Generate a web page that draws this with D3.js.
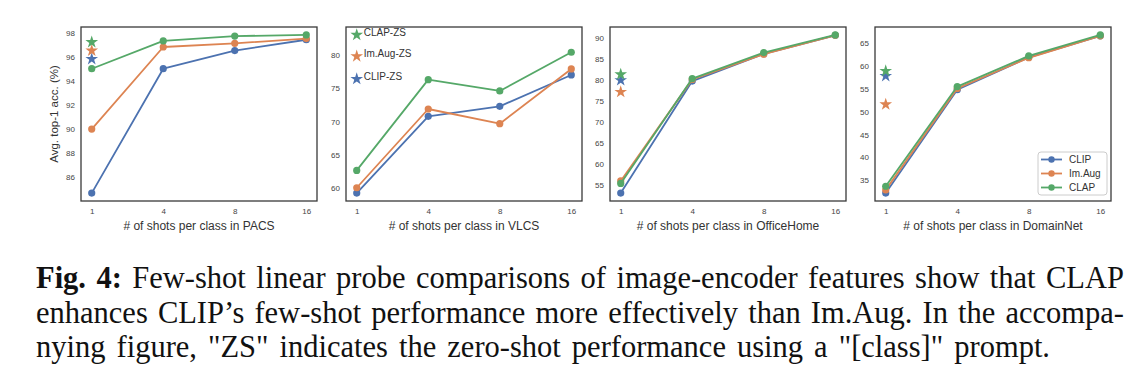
<!DOCTYPE html>
<html><head><meta charset="utf-8">
<script src="https://cdn.jsdelivr.net/npm/d3@7"></script>
<style>body{margin:0;background:#fff} svg{display:block}</style>
</head><body>
<svg id="c" width="1138" height="382"></svg>
<script>
// ---------- data ----------
const shots = ["1", "4", "8", "16"];
const datasets = ["PACS", "VLCS", "OfficeHome", "DomainNet"];
const seriesNames = ["CLIP", "Im.Aug", "CLAP"];
const zsNames = ["CLIP-ZS", "Im.Aug-ZS", "CLAP-ZS"];
const clipVals  = [[84.7, 95.0, 96.5, 97.4], [59.3, 70.8, 72.3, 77.0], [53.0, 79.7, 86.2, 90.6], [32.2, 54.8, 61.9, 66.6]];
const imaugVals = [[90.0, 96.8, 97.1, 97.5], [60.1, 71.9, 69.7, 77.9], [55.9, 80.1, 86.1, 90.6], [32.9, 55.1, 61.8, 66.6]];
const clapVals  = [[95.0, 97.3, 97.7, 97.8], [62.7, 76.3, 74.6, 80.4], [55.3, 80.3, 86.5, 90.7], [33.7, 55.5, 62.2, 66.8]];
const clipZS  = [95.8, 76.4, 79.9, 57.8];
const imaugZS = [96.5, 79.8, 77.1, 51.6];
const clapZS  = [97.2, 83.0, 81.3, 58.9];
const yTicks = [[86, 88, 90, 92, 94, 96, 98], [60, 65, 70, 75, 80], [55, 60, 65, 70, 75, 80, 85, 90], [35, 40, 45, 50, 55, 60, 65]];
const yLabel = "Avg. top-1 acc. (%)";
const captionBold = "Fig. 4:";
const captionLines = [
  "Few-shot linear probe comparisons of image-encoder features show that CLAP",
  "enhances CLIP’s few-shot performance more effectively than Im.Aug. In the accompa-",
  "nying figure, \"ZS\" indicates the zero-shot performance using a \"[class]\" prompt."
];

// ---------- layout ----------
const svg = d3.select("#c");
const W = 236, H = 174, TOP = 27;
const lefts = [81, 346, 610, 875];
const colors = ["#4C72B0", "#DD8452", "#55A868"];
const sans = '"Liberation Sans", Arial, "DejaVu Sans", sans-serif';
const textCol = "#333";

datasets.forEach((ds, i) => {
  const g = svg.append("g").attr("transform", `translate(${lefts[i]},${TOP})`);
  const x = d3.scaleLinear().domain([-0.15, 3.15]).range([0, W]);
  const series = [clipVals[i], imaugVals[i], clapVals[i]];
  const zs = [clipZS[i], imaugZS[i], clapZS[i]];
  const all = [...series.flat(), ...zs];
  const [mn, mx] = d3.extent(all);
  const pad = (mx - mn) * 0.05;
  const y = d3.scaleLinear().domain([mn - pad, mx + pad]).range([H, 0]);

  const xa = d3.axisBottom(x).tickValues([0, 1, 2, 3]).tickFormat(j => shots[j]).tickSize(0).tickPadding(7);
  const gx = g.append("g").attr("transform", `translate(0,${H})`).call(xa);
  const ya = d3.axisLeft(y).tickValues(yTicks[i]).tickSize(0).tickPadding(6);
  const gy = g.append("g").call(ya);
  [gx, gy].forEach(a => {
    a.select(".domain").remove();
    a.selectAll("text").attr("font-family", sans).attr("font-size", 8).attr("fill", "#444");
  });

  // series lines
  const line = d3.line().x((d, j) => x(j)).y(d => y(d));
  series.forEach((s, k) => {
    g.append("path").datum(s).attr("d", line).attr("fill", "none")
      .attr("stroke", colors[k]).attr("stroke-width", 1.8).attr("stroke-linejoin", "round");
    g.selectAll(null).data(s).enter().append("circle")
      .attr("cx", (d, j) => x(j)).attr("cy", d => y(d)).attr("r", 3.6).attr("fill", colors[k]);
  });

  // zero-shot stars
  const star = d3.symbol().type(d3.symbolStar).size(50);
  zs.forEach((v, k) => {
    g.append("path").attr("d", star).attr("transform", `translate(${x(0)},${y(v)})`).attr("fill", colors[k]);
    if (i === 1) {
      g.append("text").attr("x", x(0) + 7).attr("y", y(v) + 1).text(zsNames[k])
        .attr("font-family", sans).attr("font-size", 10).attr("fill", textCol);
    }
  });

  // frame
  g.append("rect").attr("x", 0).attr("y", 0).attr("width", W).attr("height", H)
    .attr("fill", "none").attr("stroke", "#3a3a3a").attr("stroke-width", 1.3);

  // x label
  g.append("text").attr("x", W / 2).attr("y", H + 29).attr("text-anchor", "middle")
    .attr("font-family", sans).attr("font-size", 12).attr("fill", textCol)
    .text("# of shots per class in " + ds);

  if (i === 0) {
    g.append("text").attr("transform", `translate(-27,${H / 2}) rotate(-90)`)
      .attr("text-anchor", "middle").attr("dominant-baseline", "central")
      .attr("font-family", sans).attr("font-size", 11.5).attr("fill", textCol).text(yLabel);
  }

  if (i === 3) {
    const lg = g.append("g").attr("transform", "translate(163,125)");
    lg.append("rect").attr("width", 69).attr("height", 43).attr("rx", 3)
      .attr("fill", "#fff").attr("stroke", "#ccc").attr("stroke-width", 1);
    seriesNames.forEach((n, k) => {
      const yy = 7.5 + k * 14;
      lg.append("line").attr("x1", 3).attr("x2", 24).attr("y1", yy).attr("y2", yy)
        .attr("stroke", colors[k]).attr("stroke-width", 1.8);
      lg.append("circle").attr("cx", 13.5).attr("cy", yy).attr("r", 3.2).attr("fill", colors[k]);
      lg.append("text").attr("x", 31).attr("y", yy).attr("dominant-baseline", "central")
        .attr("font-family", sans).attr("font-size", 10).attr("fill", textCol).text(n);
    });
  }
});

// ---------- caption (justified words) ----------
const serif = '"Liberation Serif", "DejaVu Serif", serif';
const capSize = 30.5;
const capLeft = 36, capRight = 1124, lastEnd = 1050;
const baselines = [288, 322.5, 357];
captionLines.forEach((ln, li) => {
  let words = ln.split(" ").map(w => ({ w, bold: false }));
  if (li === 0) words = captionBold.split(" ").map(w => ({ w, bold: true })).concat(words);
  const nodes = words.map(o => svg.append("text").attr("y", baselines[li])
    .attr("font-family", serif).attr("font-size", capSize)
    .attr("font-weight", o.bold ? "bold" : "normal").attr("fill", "#111").text(o.w));
  const widths = nodes.map(n => n.node().getComputedTextLength());
  const sum = d3.sum(widths);
  const end = li < 2 ? capRight : lastEnd;
  let gap = (end - capLeft - sum) / (words.length - 1);
  if (li === 2) gap = Math.max(capSize * 0.2, Math.min(capSize * 0.45, gap));
  let xx = capLeft;
  nodes.forEach((n, k) => { n.attr("x", xx); xx += widths[k] + gap; });
});
</script>
</body></html>
